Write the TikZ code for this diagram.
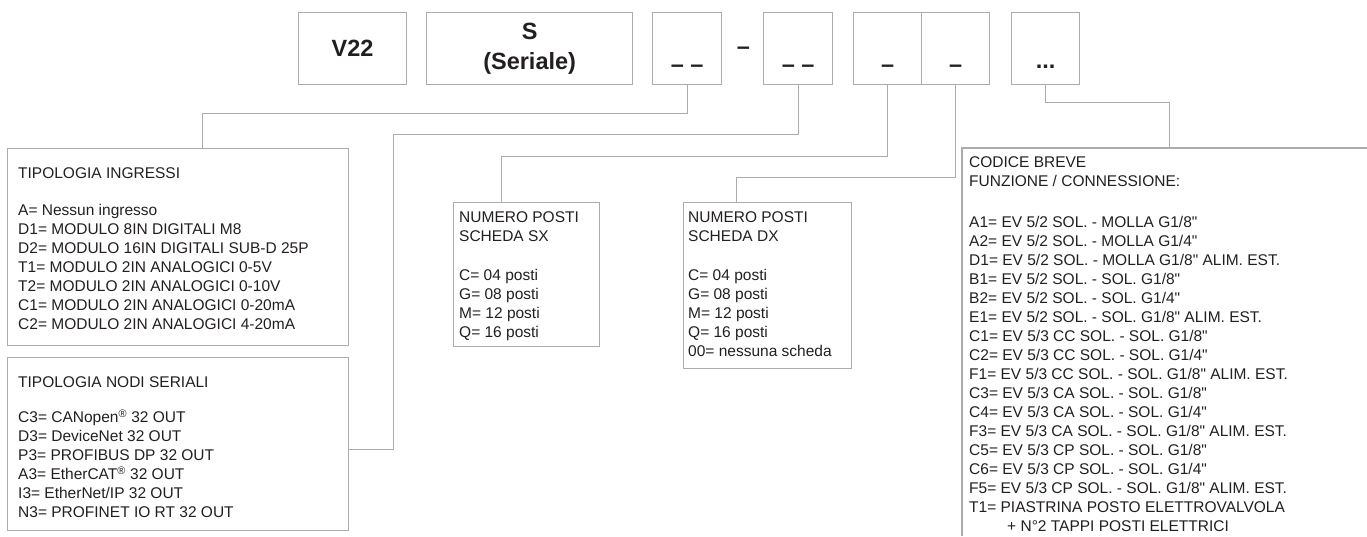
\documentclass[tikz,border=0pt]{standalone}
\usepackage{fontspec}
\newfontfamily\arialfont{Liberation Sans}
\usepackage{tikz}
\definecolor{linegray}{RGB}{172,172,172}
\definecolor{txt}{RGB}{35,31,32}
\newcommand\listfont{\arialfont\fontsize{15.5}{19}\selectfont}
\newcommand\codefont{\arialfont\bfseries\fontsize{23.5}{30}\selectfont}
\tikzset{
  codebox/.style={draw=linegray, line width=1.3pt, anchor=north west, inner sep=0pt,
    minimum height=72pt, align=center, font=\codefont, text=txt},
  listbox/.style={draw=linegray, line width=1.3pt, anchor=north west, inner sep=0pt},
  listtext/.style={anchor=north west, inner sep=0pt, align=left, font=\listfont, text=txt},
  marktext/.style={anchor=base, inner sep=0pt, font=\codefont, text=txt},
  link/.style={draw=linegray, line width=1pt}
}

\begin{document}
\begin{tikzpicture}[x=1pt, y=-1pt]
    \useasboundingbox (0,0) rectangle (1367,536);
    % code row
    \node[codebox, minimum width=108pt] (v22) at (298,12) {V22};
    \node[codebox, minimum width=206pt] (ser) at (426,12) {S\\(Seriale)};
    \node[codebox, minimum width=69pt] (c3) at (652,12) {};
    \node[codebox, minimum width=69pt] (c4) at (763,12) {};
    \node[codebox, minimum width=68pt] (c5a) at (853,12) {};
    \node[codebox, minimum width=68pt] (c5b) at (921,12) {};
    \node[codebox, minimum width=68pt] (c6) at (1011,12) {};
    \node[marktext] (d3) at ([yshift=-24pt]c3.center) {\textendash\ \textendash};
    \node[marktext] (sep) at ([xshift=21pt,yshift=-6pt]c3.east) {\textendash};
    \node[marktext] (d4) at ([yshift=-24pt]c4.center) {\textendash\ \textendash};
    \node[marktext] (d5a) at ([yshift=-24pt]c5a.center) {\textendash};
    \node[marktext] (d5b) at ([yshift=-24pt]c5b.center) {\textendash};
    \node[marktext] (dots) at ([yshift=-20pt]c6.center) {...};
    % boxes
    \node[listbox, minimum width=341pt, minimum height=197pt] (ingr) at (7,148) {};
    \node[listbox, minimum width=341pt, minimum height=173pt] (nodi) at (7,357) {};
    \node[listbox, minimum width=146pt, minimum height=144pt] (sx) at (453,202) {};
    \node[listbox, minimum width=168pt, minimum height=166pt] (dx) at (683,202) {};
    \node[anchor=north west, inner sep=0pt, minimum width=405pt, minimum height=388pt] (cod) at (962,148) {};
    \draw[draw=linegray, line width=1.3pt] (cod.north east) -- (cod.north west) -- (cod.south west);
    \node[listtext] (ingrtxt) at ([xshift=11pt,yshift=-19.5pt]ingr.north west)
      {TIPOLOGIA INGRESSI\\[18pt]
       A= Nessun ingresso\\
       D1= MODULO 8IN DIGITALI M8\\
       D2= MODULO 16IN DIGITALI SUB-D 25P\\
       T1= MODULO 2IN ANALOGICI 0-5V\\
       T2= MODULO 2IN ANALOGICI 0-10V\\
       C1= MODULO 2IN ANALOGICI 0-20mA\\
       C2= MODULO 2IN ANALOGICI 4-20mA};
    \node[listtext] (noditxt) at ([xshift=11pt,yshift=-19.5pt]nodi.north west)
      {TIPOLOGIA NODI SERIALI\\[16pt]
       C3= CANopen\textsuperscript{®} 32 OUT\\
       D3= DeviceNet 32 OUT\\
       P3= PROFIBUS DP 32 OUT\\
       A3= EtherCAT\textsuperscript{®} 32 OUT\\
       I3= EtherNet/IP 32 OUT\\
       N3= PROFINET IO RT 32 OUT};
    \node[listtext] (sxtxt) at ([xshift=6pt,yshift=-9.5pt]sx.north west)
      {NUMERO POSTI\\
       SCHEDA SX\\[20pt]
       C= 04 posti\\
       G= 08 posti\\
       M= 12 posti\\
       Q= 16 posti};
    \node[listtext] (dxtxt) at ([xshift=5pt,yshift=-9.5pt]dx.north west)
      {NUMERO POSTI\\
       SCHEDA DX\\[20pt]
       C= 04 posti\\
       G= 08 posti\\
       M= 12 posti\\
       Q= 16 posti\\
       00= nessuna scheda};
    \node[listtext] (codtxt) at ([xshift=7pt,yshift=-8.5pt]cod.north west)
      {CODICE BREVE\\
       FUNZIONE / CONNESSIONE:\\[22pt]
       A1= EV 5/2 SOL. - MOLLA G1/8"\\
       A2= EV 5/2 SOL. - MOLLA G1/4"\\
       D1= EV 5/2 SOL. - MOLLA G1/8" ALIM. EST.\\
       B1= EV 5/2 SOL. - SOL. G1/8"\\
       B2= EV 5/2 SOL. - SOL. G1/4"\\
       E1= EV 5/2 SOL. - SOL. G1/8" ALIM. EST.\\
       C1= EV 5/3 CC SOL. - SOL. G1/8"\\
       C2= EV 5/3 CC SOL. - SOL. G1/4"\\
       F1= EV 5/3 CC SOL. - SOL. G1/8" ALIM. EST.\\
       C3= EV 5/3 CA SOL. - SOL. G1/8"\\
       C4= EV 5/3 CA SOL. - SOL. G1/4"\\
       F3= EV 5/3 CA SOL. - SOL. G1/8" ALIM. EST.\\
       C5= EV 5/3 CP SOL. - SOL. G1/8"\\
       C6= EV 5/3 CP SOL. - SOL. G1/4"\\
       F5= EV 5/3 CP SOL. - SOL. G1/8" ALIM. EST.\\
       T1= PIASTRINA POSTO ELETTROVALVOLA\\
       \hspace*{38pt}+ N°2 TAPPI POSTI ELETTRICI};
    % links
    \coordinate (k1) at (202,113);
    \coordinate (k2) at (393,134);
    \coordinate (k3) at (501,156);
    \coordinate (k4) at (736,177);
    \coordinate (k5) at (1169,102);
    \draw[link] (c3.south) |- (k1) -- (k1 |- ingr.north);
    \draw[link] (c4.south) |- (k2) |- ([yshift=-5.5pt]nodi.east);
    \draw[link] (c5a.south) |- (k3) -- (k3 |- sx.north);
    \draw[link] (c5b.south) |- (k4) -- (k4 |- dx.north);
    \draw[link] (c6.south) |- (k5) -- (k5 |- cod.north);
\end{tikzpicture}
\end{document}
